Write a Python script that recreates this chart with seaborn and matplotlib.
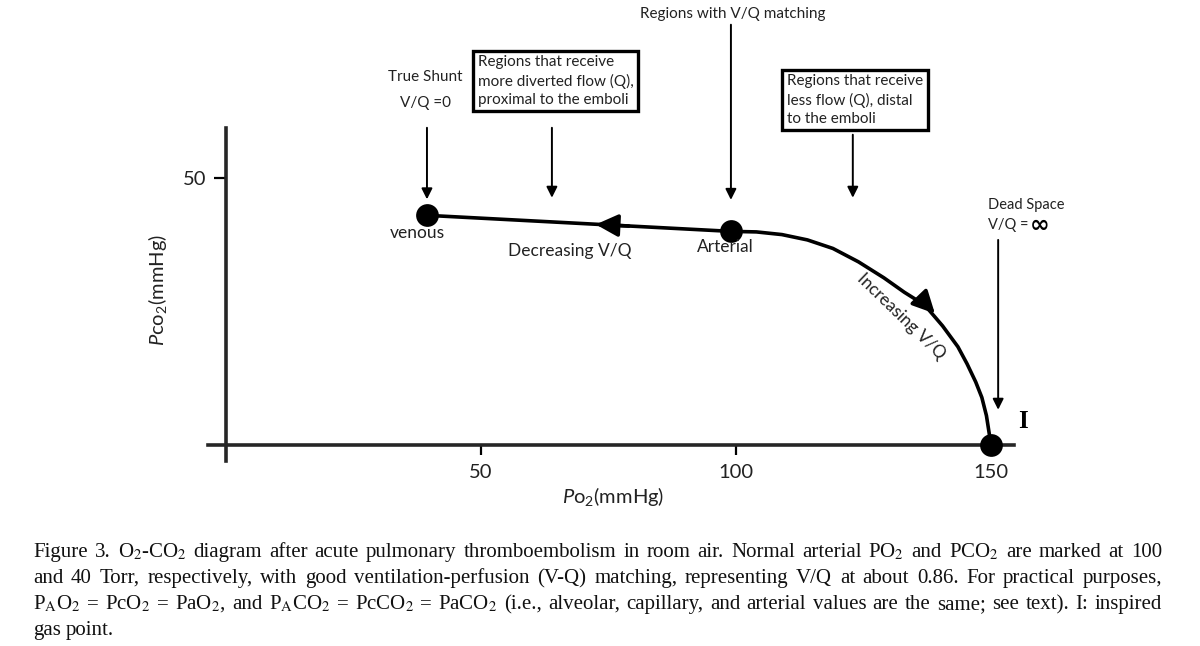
import matplotlib
matplotlib.use('Agg')
import matplotlib.pyplot as plt
import seaborn as sns

# O2-CO2 diagram, values
po2 = [39.5, 99, 104, 109, 114, 119, 124, 129, 133, 137, 140.5, 143.5, 145.3, 147, 148.2, 149.1, 150]
pco2 = [43, 40, 39.9, 39.4, 38.4, 36.8, 34.3, 31.3, 28.6, 26.2, 22.3, 18.4, 15.2, 11.8, 8.9, 5.5, 0]

point_po2 = [39.5, 99, 150]
point_pco2 = [43, 40, 0]

x_ticks = [50, 100, 150]
y_ticks = [50]

caption_lines = [
    "Figure 3. O$_2$-CO$_2$ diagram after acute pulmonary thromboembolism in room air. Normal arterial PO$_2$ and PCO$_2$ are marked at 100",
    "and 40 Torr, respectively, with good ventilation-perfusion (V-Q) matching, representing V/Q at about 0.86. For practical purposes,",
    r"P$_\mathrm{A}$O$_2$ = PcO$_2$ = PaO$_2$, and P$_\mathrm{A}$CO$_2$ = PcCO$_2$ = PaCO$_2$ (i.e., alveolar, capillary, and arterial values are the same; see text). I: inspired",
    "gas point.",
]

sns.set_style('white')
plt.rcParams['font.family'] = ['Lato', 'DejaVu Sans']
plt.rcParams['mathtext.fontset'] = 'custom'
plt.rcParams['mathtext.rm'] = 'Lato'
plt.rcParams['mathtext.it'] = 'Lato:italic'

W, H = 1200, 646
fig = plt.figure(figsize=(12, 6.46), dpi=100)
ax = fig.add_axes([0.0821, 0.2285, 0.85, 0.744])
ax.set_xlim(-25, 175)
ax.set_ylim(-10, 80)


def px(x, y):
    return x / W, 1 - y / H


sns.lineplot(x=po2, y=pco2, sort=False, estimator=None, color='black', lw=2.6, ax=ax)
sns.scatterplot(x=point_po2, y=point_pco2, s=230, color='black', edgecolor='black', zorder=5, ax=ax)

# axes as crossed lines
for side in ['top', 'right']:
    ax.spines[side].set_visible(False)
ax.spines['left'].set_position(('data', 0))
ax.spines['bottom'].set_position(('data', 0))
ax.spines['left'].set_bounds(-3, 59.4)
ax.spines['bottom'].set_bounds(-3.5, 154.5)
ax.spines['left'].set_linewidth(2.6)
ax.spines['bottom'].set_linewidth(2.6)
ax.set_xticks(x_ticks)
ax.set_yticks(y_ticks)
ax.tick_params(axis='x', bottom=True, direction='out', length=7, width=1.6, labelsize=14.5, pad=7,
               color='black', labelcolor='#222222')
ax.tick_params(axis='y', left=True, direction='out', length=9, width=1.6, labelsize=14.5, pad=5,
               color='black', labelcolor='#222222')

# direction arrows on the curve
head = dict(arrowstyle='-|>', color='black', lw=2.6, mutation_scale=34, shrinkA=0, shrinkB=0)
ax.annotate('', xy=(72.5, 41.3), xytext=(79, 41.0), arrowprops=head)
ax.annotate('', xy=(139.0, 24.6), xytext=(136.6, 27.0), arrowprops=head)

# pointer arrows
thin = dict(arrowstyle='-|>', color='black', lw=1.4, mutation_scale=16, shrinkA=0, shrinkB=0)
for x0, y_top, y_end in [(39.4, 59.4, 46.0), (63.9, 59.4, 46.3), (99, 78.7, 45.9),
                         (122.9, 58.1, 46.3), (151.4, 38.4, 6.6)]:
    ax.annotate('', xy=(x0, y_end), xytext=(x0, y_top), arrowprops=thin, annotation_clip=False)

tc = '#222222'
fig.text(*px(733, 14), 'Regions with V/Q matching', ha='center', va='center', fontsize=11, color=tc)
fig.text(*px(425, 77), 'True Shunt', ha='center', va='center', fontsize=11, color=tc)
fig.text(*px(425, 103), 'V/Q =0', ha='center', va='center', fontsize=11, color=tc)
box = dict(boxstyle='square,pad=0.3', fc='white', ec='black', lw=2.4)
fig.text(*px(478, 81), 'Regions that receive\nmore diverted flow (Q),\nproximal to the emboli',
         ha='left', va='center', fontsize=11, linespacing=1.35, color=tc, bbox=box)
fig.text(*px(787, 100), 'Regions that receive\nless flow (Q), distal\nto the emboli',
         ha='left', va='center', fontsize=11, linespacing=1.35, color=tc, bbox=box)
fig.text(*px(988, 205), 'Dead Space', ha='left', va='center', fontsize=10.5, color=tc)
fig.text(*px(988, 225), 'V/Q =', ha='left', va='center', fontsize=10.5, color=tc)
fig.text(*px(1030, 225), '∞', ha='left', va='center', fontsize=17, fontweight='bold', color='black',
         family=['DejaVu Sans'])

fig.text(*px(417, 233), 'venous', ha='center', va='center', fontsize=12.5, color=tc)
fig.text(*px(570, 251), 'Decreasing V/Q', ha='center', va='center', fontsize=12.5, color=tc)
fig.text(*px(725, 247), 'Arterial', ha='center', va='center', fontsize=12.5, color=tc)
fig.text(*px(901, 316), 'Increasing V/Q', ha='center', va='center', fontsize=12.5, color=tc,
         rotation=-44, rotation_mode='anchor')
fig.text(*px(1023, 422), 'I', ha='center', va='center', fontsize=18, fontweight='bold',
         family=['Liberation Serif'], color='black')

fig.text(*px(613, 497), r'$\mathit{P}$o$_2$(mmHg)', ha='center', va='center', fontsize=14.5, color=tc)
fig.text(*px(158, 290), r'$\mathit{P}$co$_2$(mmHg)', ha='center', va='center', fontsize=14.5,
         rotation=90, color=tc)

# caption, justified line by line
renderer = fig.canvas.get_renderer()
baselines = [557, 583, 609, 635]
for i, (line, yb) in enumerate(zip(caption_lines, baselines)):
    words = line.split(' ')
    texts = [fig.text(0, 1 - yb / H, w, ha='left', va='baseline', fontsize=15,
                      family=['Liberation Serif'], math_fontfamily='stix', color='#111111')
             for w in words]
    widths = [t.get_window_extent(renderer).width for t in texts]
    space = texts[0].get_fontsize() * 0.25 * 100 / 72
    if i < len(caption_lines) - 1:
        space = (1162 - 33 - sum(widths)) / (len(words) - 1)
    x = 33
    for t, w in zip(texts, widths):
        t.set_x(x / W)
        x += w + space

fig.savefig('out.png', dpi=100)
